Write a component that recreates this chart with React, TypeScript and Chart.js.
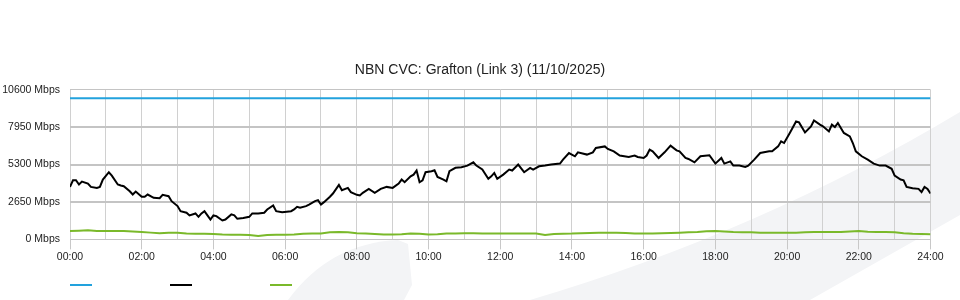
import React, { useEffect, useRef } from 'react';
import { Chart, registerables } from 'chart.js';

Chart.register(...registerables);

const chartTitle = 'NBN CVC: Grafton (Link 3) (11/10/2025)';
const yTickValues = [0, 2650, 5300, 7950, 10600];
const seriesNames = ['Capacity', 'Download', 'Upload'];
const seriesColors = ['#22a2dd', '#000000', '#7ab92a'];

// minutes after midnight
const capacityTimes = [0, 1440];
const capacityMbps = [10000, 10000];

const downloadTimes = [
  0, 5, 10, 15, 20, 30, 35, 45, 50, 55, 65, 70, 80, 85, 90, 100, 105, 110, 120, 125, 130, 140, 150, 155, 165, 170,
  180, 185, 195, 200, 210, 215, 220, 225, 230, 235, 240, 245, 255, 260, 270, 275, 280, 290, 300, 305, 315, 325, 330,
  340, 345, 355, 370, 375, 380, 385, 395, 400, 410, 415, 420, 425, 435, 440, 450, 455, 465, 470, 480, 485, 490, 500,
  510, 520, 530, 540, 550, 555, 560, 570, 575, 580, 585, 590, 595, 605, 610, 615, 625, 630, 635, 645, 655, 665, 675,
  680, 690, 700, 705, 710, 715, 725, 735, 740, 750, 760, 770, 775, 785, 795, 805, 820, 825, 835, 845, 850, 865, 875,
  880, 895, 900, 910, 920, 935, 945, 950, 960, 965, 970, 975, 985, 995, 1005, 1015, 1020, 1030, 1035, 1045, 1055,
  1070, 1080, 1090, 1095, 1105, 1110, 1120, 1130, 1135, 1145, 1155, 1170, 1175, 1185, 1190, 1195, 1205, 1215, 1220,
  1230, 1240, 1245, 1255, 1260, 1270, 1275, 1280, 1285, 1295, 1305, 1310, 1315, 1325, 1335, 1345, 1355, 1365, 1375,
  1380, 1390, 1395, 1400, 1410, 1420, 1425, 1430, 1435, 1440,
];
const downloadMbps = [
  3720, 4190, 4190, 3890, 4100, 3960, 3720, 3650, 3720, 4240, 4760, 4520, 3890, 3820, 3770, 3410, 3180, 3390, 3020, 3020, 3180, 2950, 2920, 3160, 3060, 2710,
  2360, 2000, 1890, 1700, 1840, 1600, 1840, 2000, 1700, 1410, 1700, 1650, 1340, 1410, 1770, 1700, 1460, 1510, 1600, 1840, 1840, 1890, 2120,
  2400, 2000, 1930, 2000, 2120, 2310, 2240, 2360, 2470, 2710, 2780, 2470, 2640, 3020, 3250, 3860, 3480, 3650, 3350, 3160, 3110, 3300, 3580,
  3300, 3580, 3720, 3650, 3960, 4240, 4050, 4470, 4590, 4880, 4050, 4190, 4760, 4830, 4900, 4430, 4240, 4120, 4830, 5070, 5110, 5230, 5460,
  5230, 4950, 4290, 4470, 4710, 4290, 4590, 4950, 4880, 5300, 4760, 5070, 4950, 5180, 5230, 5300, 5370, 5650, 6120, 5890, 6170, 6010, 6170,
  6480, 6590, 6410, 6240, 5940, 5840, 5940, 5840, 5770, 5940, 6360, 6240, 5770, 6170, 6640, 6310, 6240, 5770, 5700, 5460, 5890,
  5960, 5370, 5770, 5370, 5530, 5230, 5230, 5140, 5230, 5650, 6120, 6240, 6240, 6590, 6950, 6830, 7580, 8360, 8290,
  7580, 8010, 8430, 8130, 8010, 7650, 8130, 7960, 8250, 7540, 7300, 6830, 6240, 5890, 5650, 5370, 5230, 5230, 5000,
  4520, 4240, 4190, 3720, 3620, 3580, 3350, 3720, 3580, 3250,
];

const uploadTimes = [
  0, 15, 30, 45, 60, 75, 90, 105, 120, 135, 150, 165, 180, 195, 210, 225, 240, 255, 270, 285, 300, 315, 330, 345,
  360, 375, 390, 405, 420, 435, 450, 465, 480, 495, 510, 525, 540, 555, 570, 585, 600, 615, 630, 645, 660, 675,
  690, 705, 720, 735, 750, 765, 780, 795, 810, 825, 840, 855, 870, 885, 900, 915, 930, 945, 960, 975, 990, 1005,
  1020, 1035, 1050, 1065, 1080, 1095, 1110, 1125, 1140, 1155, 1170, 1185, 1200, 1215, 1230, 1245, 1260, 1275,
  1290, 1305, 1320, 1335, 1350, 1365, 1380, 1395, 1410, 1425, 1440,
];
const uploadMbps = [
  600, 620, 640, 600, 590, 600, 590, 560, 520, 480, 430, 470, 470, 420, 400, 400, 380, 340, 330, 330, 320, 250, 320, 330,
  330, 340, 400, 420, 420, 500, 520, 500, 430, 420, 380, 350, 350, 360, 420, 400, 350, 360, 420, 420, 430, 440,
  420, 420, 410, 420, 420, 420, 410, 310, 380, 400, 410, 440, 460, 470, 470, 470, 450, 420, 420, 420, 440, 450,
  470, 500, 520, 580, 600, 560, 520, 500, 500, 480, 470, 470, 470, 480, 500, 520, 520, 520,
  520, 560, 600, 540, 520, 520, 500, 440, 400, 390, 360,
];

const toPoints = (times: number[], vals: number[]) => times.map((t, i) => ({ x: t / 60, y: vals[i] }));

const pad2 = (n: number) => (n < 10 ? '0' + n : String(n));

const watermarkPlugin = {
  id: 'watermark',
  beforeDraw(chart: any) {
    const ctx = chart.ctx as CanvasRenderingContext2D;
    ctx.save();
    ctx.fillStyle = '#f3f4f6';
    ctx.beginPath();
    ctx.moveTo(288, 300);
    ctx.quadraticCurveTo(330, 243, 398, 240);
    ctx.lineTo(408, 244);
    ctx.lineTo(412, 285);
    ctx.lineTo(404, 300);
    ctx.closePath();
    ctx.fill();
    ctx.beginPath();
    ctx.moveTo(530, 300);
    ctx.quadraticCurveTo(760, 232, 960, 112);
    ctx.lineTo(960, 215);
    ctx.lineTo(810, 300);
    ctx.closePath();
    ctx.fill();
    ctx.restore();
  },
};

const legendPlugin = {
  id: 'lineLegend',
  afterDraw(chart: any) {
    const ctx = chart.ctx as CanvasRenderingContext2D;
    ctx.save();
    chart.data.datasets.forEach((ds: any, i: number) => {
      ctx.fillStyle = ds.borderColor;
      ctx.fillRect(70 + i * 100, 284, 22, 2);
    });
    ctx.restore();
  },
};

export default function App() {
  const ref = useRef<HTMLCanvasElement | null>(null);
  useEffect(() => {
    document.body.style.margin = '0';
    if (!ref.current) return;
    Chart.defaults.font.family = "'Liberation Sans', Arial, sans-serif";
    const chart = new Chart(ref.current, {
      type: 'line',
      data: {
        datasets: [
          {
            label: seriesNames[0],
            data: toPoints(capacityTimes, capacityMbps),
            borderColor: seriesColors[0],
            backgroundColor: seriesColors[0],
            borderWidth: 2,
            pointRadius: 0,
            tension: 0,
          },
          {
            label: seriesNames[1],
            data: toPoints(downloadTimes, downloadMbps),
            borderColor: seriesColors[1],
            backgroundColor: seriesColors[1],
            borderWidth: 2,
            pointRadius: 0,
            tension: 0,
          },
          {
            label: seriesNames[2],
            data: toPoints(uploadTimes, uploadMbps),
            borderColor: seriesColors[2],
            backgroundColor: seriesColors[2],
            borderWidth: 2,
            pointRadius: 0,
            tension: 0,
          },
        ],
      },
      options: {
        responsive: false,
        animation: false,
        layout: { padding: { top: 0, left: 0, right: 0, bottom: 36 } },
        plugins: {
          legend: { display: false },
          tooltip: { enabled: false },
          title: {
            display: true,
            text: chartTitle,
            color: '#222',
            font: { size: 14, weight: 'normal' },
            padding: { top: 62, bottom: 11 },
          },
        },
        scales: {
          x: {
            type: 'linear',
            min: 0,
            max: 24,
            ticks: {
              stepSize: 1,
              autoSkip: false,
              maxRotation: 0,
              padding: 1,
              color: '#222',
              font: { size: 10.5 },
              callback: (v: any) => {
                const h = Math.round(Number(v));
                return h % 2 === 0 ? pad2(h) + ':00' : '';
              },
            },
            grid: {
              color: '#d0d0d0',
              lineWidth: 1,
              tickLength: 10,
              tickColor: (c: any) => (c.tick && Math.round(c.tick.value) % 2 === 0 ? '#c8c8c8' : 'rgba(0,0,0,0)'),
            },
            border: { display: false },
          },
          y: {
            min: 0,
            max: 10600,
            afterBuildTicks: (s: any) => {
              s.ticks = yTickValues.map((v) => ({ value: v }));
            },
            afterFit: (s: any) => {
              s.width = 70;
            },
            ticks: {
              padding: 10,
              color: '#222',
              font: { size: 10.5 },
              callback: (v: any) => v + ' Mbps',
            },
            grid: {
              drawTicks: false,
              color: '#c4c4c4',
              lineWidth: (c: any) => (c.index === 0 || c.index === yTickValues.length - 1 ? 1 : 2),
            },
            border: { display: false },
          },
          yRight: {
            position: 'right',
            display: true,
            afterFit: (s: any) => {
              s.width = 29.5;
            },
            ticks: { display: false },
            grid: { display: false },
            border: { display: false },
          },
        },
      } as any,
      plugins: [watermarkPlugin, legendPlugin],
    });
    return () => chart.destroy();
  }, []);
  return (
    <div style={{ width: 960, height: 300 }}>
      <canvas ref={ref} width={960} height={300} />
    </div>
  );
}
